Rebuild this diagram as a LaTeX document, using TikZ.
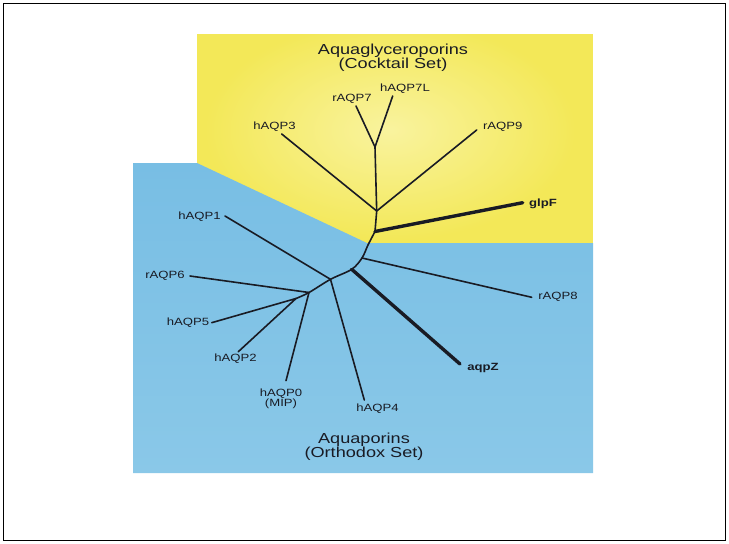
\documentclass[tikz,border=0pt]{standalone}
\usepackage{fontspec}
\setmainfont{Liberation Sans}[FakeStretch=1.25]
\usetikzlibrary{positioning}

\definecolor{cocktail}{RGB}{243,232,88}
\definecolor{cocktailpale}{RGB}{249,243,158}
\definecolor{orthodox}{RGB}{120,190,228}
\definecolor{orthodoxpale}{RGB}{138,200,232}
\definecolor{twig}{RGB}{25,27,36}

\tikzset{
  branch/.style={draw=twig, line width=1.6pt, line cap=round, line join=round},
  heavy/.style={draw=twig, line width=3.4pt, line cap=round},
  lbl/.style={inner sep=0pt, text=twig, font=\fontsize{10.5}{10.5}\selectfont},
  boldlbl/.style={lbl, font=\fontsize{10.5}{10.5}\selectfont\bfseries},
  ttl/.style={inner sep=0pt, align=center, text=twig, font=\fontsize{14.5}{13.6}\selectfont}
}

\begin{document}
\begin{tikzpicture}[x=1pt, y=-1pt]

\useasboundingbox (0,0) rectangle (729,544);
\draw[line width=1.2pt] (3.5,3.5) rectangle (725.5,540.5);

% Cocktail set background
\begin{scope}
\clip (197,34) rectangle (593,243);
\fill[cocktail] (197,34) rectangle (593,243);
\shade[inner color=cocktailpale, outer color=cocktail] (390,130) ellipse (185 and 110);
\end{scope}

% Orthodox set background
\shade[top color=orthodox, bottom color=orthodoxpale]
  (133,163) -- (197,163) -- (367,243) -- (593,243) -- (593,473) -- (133,473) -- cycle;

% Group titles
\node[ttl] (cocktailset) at (393,57.5) {Aquaglyceroporins\\(Cocktail Set)};
\node[ttl] (orthodoxset) at (364,446.5) {Aquaporins\\(Orthodox Set)};

% Inner junctions
\coordinate (j7)  at (375,147);
\coordinate (j3)  at (376.7,211);
\coordinate (jg)  at (375,231.5);
\coordinate (jc)  at (368,245);
\coordinate (j8)  at (362,258);
\coordinate (jz)  at (351.7,269.3);
\coordinate (j1)  at (330.5,279.3);
\coordinate (j6)  at (309,292.5);
\coordinate (j5)  at (296,298.5);

% Leaf tips
\coordinate (tip7)  at (356,106);
\coordinate (tip7L) at (392.7,96);
\coordinate (tip3)  at (281.7,134);
\coordinate (tip9)  at (476.7,130);
\coordinate (tipF)  at (522.7,202.7);
\coordinate (tip8)  at (531.7,297.3);
\coordinate (tipZ)  at (460,364);
\coordinate (tip1)  at (225,216);
\coordinate (tip4)  at (364.3,400);
\coordinate (tip6)  at (190,276);
\coordinate (tip0)  at (286,380.7);
\coordinate (tip5)  at (211.7,322.7);
\coordinate (tip2)  at (238.3,351.7);

% Leaf labels
\node[lbl] (rAQP7)  at (352,99)    {rAQP7};
\node[lbl] (hAQP7L) at (405,89)    {hAQP7L};
\node[lbl] (hAQP3)  at (274.5,127) {hAQP3};
\node[lbl] (rAQP9)  at (502.8,127) {rAQP9};
\node[boldlbl] (glpF) at (543,204) {glpF};
\node[lbl] (rAQP8)  at (558,297)   {rAQP8};
\node[boldlbl] (aqpZ) at (483,367.5) {aqpZ};
\node[lbl] (hAQP1)  at (199.5,216.3) {hAQP1};
\node[lbl] (hAQP4)  at (377.5,408.7) {hAQP4};
\node[lbl] (rAQP6)  at (165,276)   {rAQP6};
\node[lbl, align=center] (hAQP0) at (281,399) {hAQP0\\(MIP)};
\node[lbl] (hAQP5)  at (188,323)   {hAQP5};
\node[lbl] (hAQP2)  at (235.5,358.7) {hAQP2};

% Aquaglyceroporin branches
\draw[branch] (tip7) -- (j7) -- (tip7L);
\draw[branch] (j7) -- (j3) -- (jg);
\draw[branch] (tip3) -- (j3) -- (tip9);
\draw[heavy] (jg) -- (tipF);

% Backbone
\draw[branch] plot[smooth, tension=0.55] coordinates {(jg) (jc) (j8) (jz) (j1) (j6) (j5)};

% Aquaporin branches
\draw[branch] (j8) -- (tip8);
\draw[heavy] (jz) -- (tipZ);
\draw[branch] (tip1) -- (j1) -- (tip4);
\draw[branch] (tip6) -- (j6) -- (tip0);
\draw[branch] (tip5) -- (j5) -- (tip2);

\end{tikzpicture}
\end{document}
